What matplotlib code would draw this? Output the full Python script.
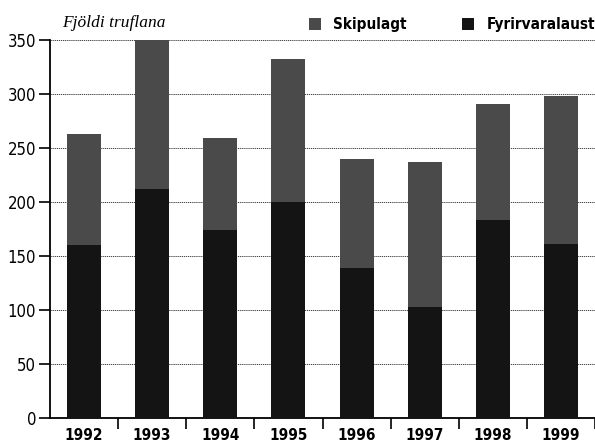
import numpy as np
import matplotlib
matplotlib.use("Agg")
import matplotlib.pyplot as plt
from matplotlib import font_manager as fm

years = ["1992", "1993", "1994", "1995", "1996", "1997", "1998", "1999"]
fyrirvaralaust = [160, 212, 174, 200, 139, 103, 183, 161]
skipulagt = [103, 138, 85, 132, 101, 134, 108, 137]

cond = fm.FontProperties(family="DejaVu Sans", stretch="condensed", size=12)
cond_b = fm.FontProperties(family="DejaVu Sans", stretch="condensed", weight="bold", size=11)
leg_p = fm.FontProperties(family="DejaVu Sans", stretch="condensed", weight="bold", size=11)

fig = plt.figure(figsize=(5.95, 4.46), dpi=100)
ax = fig.add_axes([50 / 595, 28 / 446, 545 / 595, 378 / 446])

x = np.arange(len(years))
ax.bar(x, fyrirvaralaust, width=0.5, color="#141414", zorder=3, label="Fyrirvaralaust")
ax.bar(x, skipulagt, width=0.5, bottom=fyrirvaralaust, color="#4a4a4a", zorder=3, label="Skipulagt")

ax.set_xlim(-0.5, len(years) - 0.5)
ax.set_ylim(0, 350)

# dotted grid behind the bars
for v in range(50, 351, 50):
    ax.axhline(v, color="#222222", lw=0.6, ls=(0, (1.5, 1)), zorder=1)

ax.spines["top"].set_visible(False)
ax.spines["right"].set_visible(False)
ax.spines["left"].set_linewidth(1.3)
ax.spines["bottom"].set_linewidth(1.3)

ax.set_yticks(range(0, 351, 50))
ax.set_yticklabels([str(v) for v in range(0, 351, 50)], fontproperties=cond)
ax.tick_params(axis="y", length=8, width=1.2, pad=2)

# ticks between the bars, labels under the bars
ax.set_xticks(x + 0.5, minor=False)
ax.set_xticklabels([])
ax.tick_params(axis="x", which="major", length=8, width=1.2)
ax.set_xticks(x, minor=True)
ax.set_xticklabels(years, minor=True, fontproperties=cond_b)
ax.tick_params(axis="x", which="minor", length=0, pad=7)

fig.text(62 / 595, 1 - 27 / 446, "Fjöldi truflana", family="Liberation Serif",
         style="italic", fontsize=12.5, va="baseline")

h = ax.get_legend_handles_labels()[0]
leg = fig.legend([h[1], h[0]], ["Skipulagt", "Fyrirvaralaust"], loc="center left",
                 bbox_to_anchor=(309 / 595, 1 - 25 / 446), ncol=2, frameon=False,
                 handlelength=0.8, handleheight=0.8, handletextpad=0.8,
                 columnspacing=3.6, borderpad=0, borderaxespad=0,
                 prop=leg_p)

fig.savefig("out.png", dpi=100)
